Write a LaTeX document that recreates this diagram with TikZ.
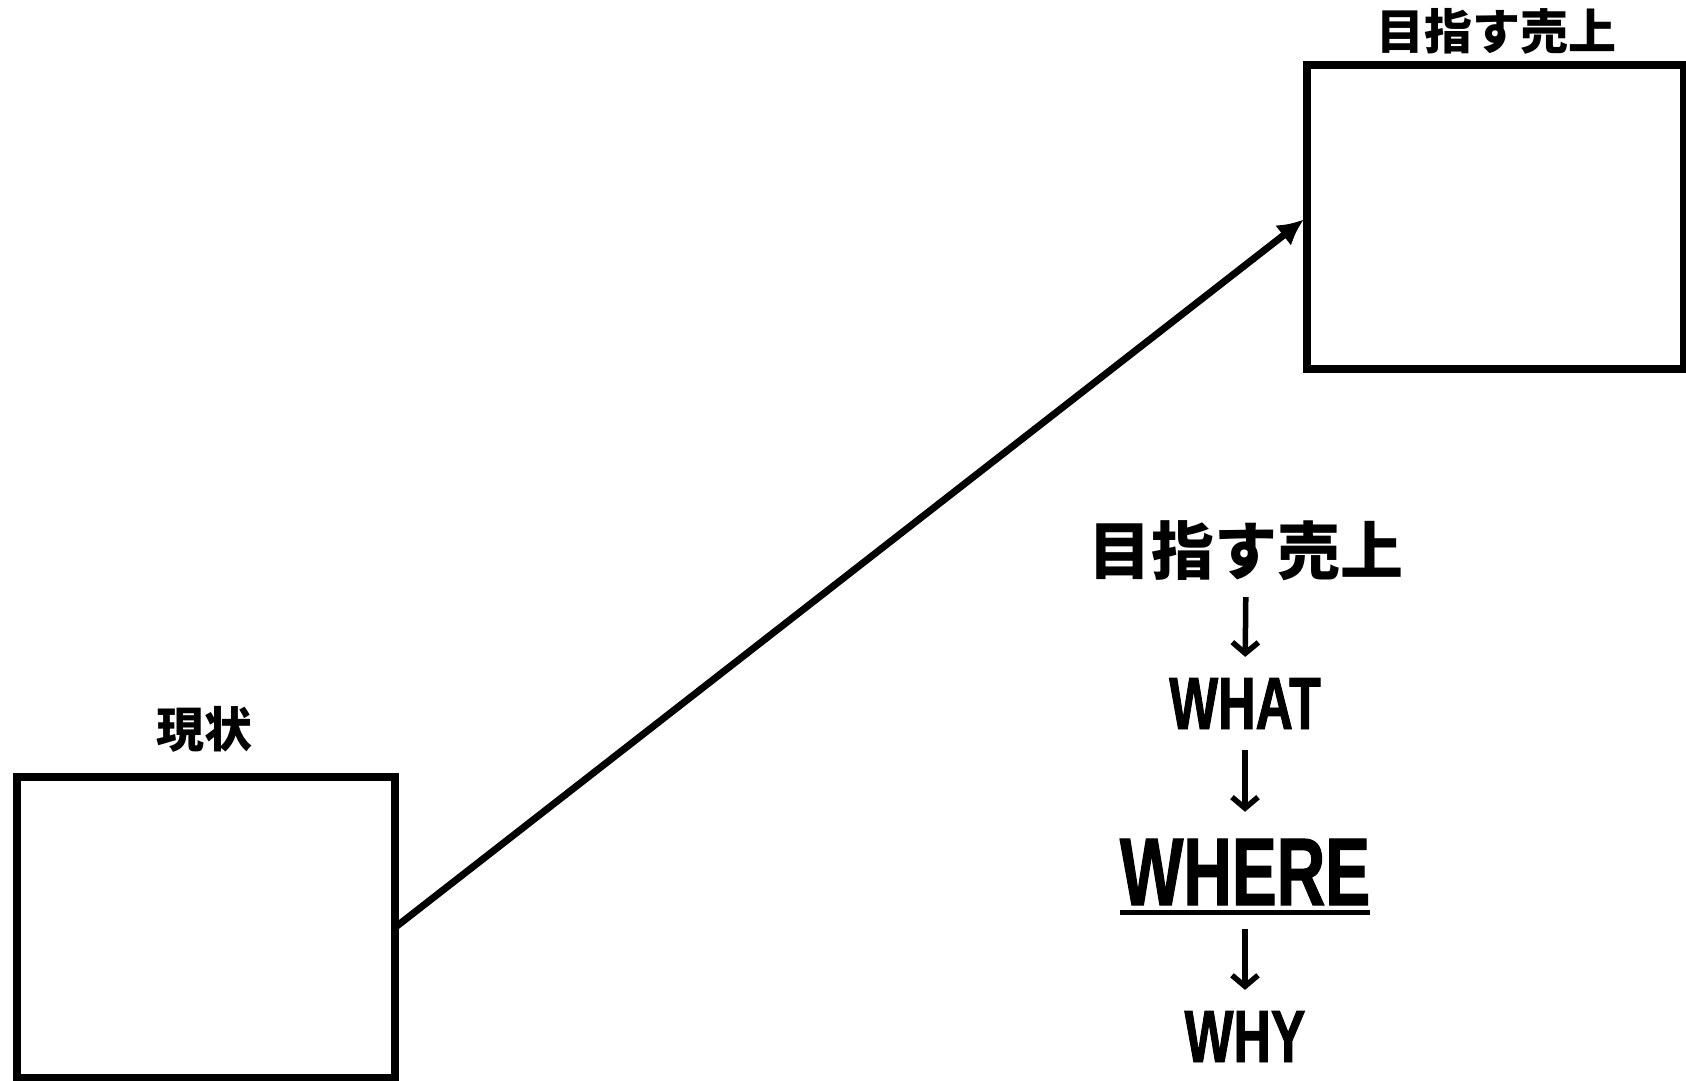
\documentclass[tikz,border=0pt]{standalone}
\usepackage{fontspec}
\setmainfont{Liberation Sans}
\newfontfamily\jpfont[BoldFont={Noto Sans CJK JP Black}]{Noto Sans CJK JP}
\newfontfamily\condfont[FakeStretch=0.70,FakeBold=1.2]{Liberation Sans}
\usetikzlibrary{arrows.meta}
\begin{document}
\begin{tikzpicture}[x=1pt,y=-1pt,
  framebox/.style={draw, line width=8pt, inner sep=0pt, outer sep=0pt},
  jplabel/.style={font=\jpfont\bfseries\fontsize{48}{48}\selectfont, inner sep=0pt, text depth=0pt, anchor=base},
  jpbig/.style={font=\jpfont\bfseries\fontsize{63}{63}\selectfont, inner sep=0pt, text depth=0pt, anchor=base},
  wlabel/.style={font=\condfont\bfseries\fontsize{74}{74}\selectfont, inner sep=0pt, text depth=0pt, anchor=base},
  wbig/.style={font=\condfont\bfseries\fontsize{96}{96}\selectfont, inner sep=0pt, text depth=0pt, anchor=base},
  mainarrow/.style={line width=7pt, -{Latex[length=26pt,width=26pt]}, shorten >=4pt},
  downarrow/.style={line width=5.5pt, -{Straight Barb[length=11pt,width=26pt]}}
]
\useasboundingbox (0,0) rectangle (1686,1081);
% boxes
\node[framebox, minimum width=378pt, minimum height=301pt] (now) at (206,927.5) {};
\node[framebox, minimum width=377pt, minimum height=304pt] (goal) at (1495.5,217) {};
% box labels
\node[jplabel] (nowlab) at (204,747) {現状};
\node[jplabel] (goallab) at (1496,50) {目指す売上};
% main arrow
\draw[mainarrow] (now.east) -- (goal.west);
% vertical chain
\node[jpbig] (mid) at (1246,574) {目指す売上};
\node[wlabel] (what) at (1245,729) {WHAT};
\node[wbig] (where) at (1245,905) {WHERE};
\node[wlabel] (why) at (1245,1062) {WHY};
\draw[line width=5pt] ([yshift=-7.5pt]where.south west) -- ([yshift=-7.5pt]where.south east);
\draw[downarrow, shorten <=23pt, shorten >=21pt] (mid.south) -- (what.north);
\draw[downarrow, shorten <=21pt, shorten >=27pt] (what.south) -- (where.north);
\draw[downarrow, shorten <=24pt, shorten >=21pt] (where.south) -- (why.north);
\end{tikzpicture}
\end{document}
